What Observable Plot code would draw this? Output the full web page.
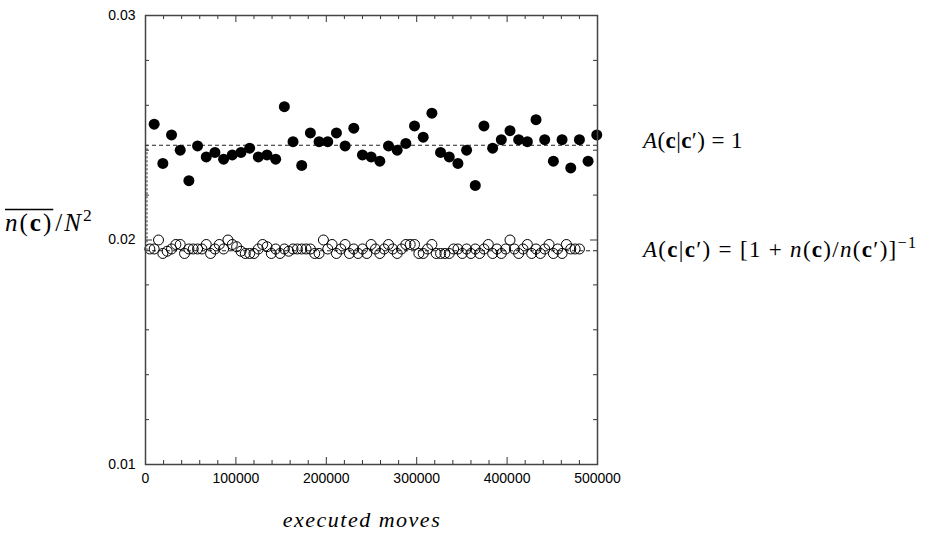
<!DOCTYPE html>
<html><head><meta charset="utf-8">
<script src="https://cdn.jsdelivr.net/npm/d3@7"></script>
<script src="https://cdn.jsdelivr.net/npm/@observablehq/plot@0.6"></script>
<style>body{margin:0;background:#fff}</style>
</head><body><div id="chart"></div>
<script>
// executed moves for the A=1 series (filled dots)
const movesFilled = [9600,19200,28800,38400,48000,57600,67200,76800,86400,96000,
  105600,115200,124800,134400,144000,153600,163200,172800,182400,192000,
  201600,211200,220800,230400,240000,249600,259200,268800,278400,288000,
  297600,307200,316800,326400,336000,345600,355200,364800,374400,384000,
  393600,403200,412800,422400,432000,441600,451200,460800,470400,480000,
  489600,499200];
const nFilled = [0.02516,0.02341,0.02468,0.02400,0.02264,0.02419,0.02370,0.02390,0.02360,0.02379,
  0.02390,0.02409,0.02370,0.02379,0.02360,0.02594,0.02438,0.02332,0.02477,0.02438,
  0.02438,0.02477,0.02419,0.02498,0.02379,0.02370,0.02351,0.02419,0.02400,0.02430,
  0.02508,0.02458,0.02565,0.02390,0.02370,0.02341,0.02400,0.02243,0.02508,0.02409,
  0.02447,0.02487,0.02447,0.02438,0.02536,0.02447,0.02351,0.02447,0.02321,0.02447,
  0.02351,0.02468];
// executed moves for the heat-bath series (open circles)
const movesOpen = [4800,9600,14400,19200,24000,28800,33600,38400,43200,48000,
  52800,57600,62400,67200,72000,76800,81600,86400,91200,96000,
  100800,105600,110400,115200,120000,124800,129600,134400,139200,144000,
  148800,153600,158400,163200,168000,172800,177600,182400,187200,192000,
  196800,201600,206400,211200,216000,220800,225600,230400,235200,240000,
  244800,249600,254400,259200,264000,268800,273600,278400,283200,288000,
  292800,297600,302400,307200,312000,316800,321600,326400,331200,336000,
  340800,345600,350400,355200,360000,364800,369600,374400,379200,384000,
  388800,393600,398400,403200,408000,412800,417600,422400,427200,432000,
  436800,441600,446400,451200,456000,460800,465600,470400,475200,480000];
const nOpen = [0.0196,0.0196,0.0200,0.0194,0.0195,0.0196,0.0198,0.0198,0.0194,0.0196,
  0.0196,0.0196,0.0196,0.0198,0.0194,0.0196,0.0198,0.0196,0.0200,0.0198,
  0.0197,0.0195,0.0194,0.0194,0.0194,0.0196,0.0198,0.0197,0.0194,0.0196,
  0.0194,0.0196,0.0195,0.0196,0.0196,0.0196,0.0196,0.0196,0.0194,0.0194,
  0.0200,0.0196,0.0198,0.0194,0.0196,0.0198,0.0194,0.0196,0.0194,0.0196,
  0.0194,0.0198,0.0196,0.0194,0.0196,0.0198,0.0196,0.0194,0.0196,0.0198,
  0.0198,0.0198,0.0194,0.0194,0.0196,0.0198,0.0194,0.0194,0.0194,0.0194,
  0.0196,0.0196,0.0194,0.0196,0.0194,0.0196,0.0194,0.0196,0.0198,0.0194,
  0.0196,0.0194,0.0196,0.0200,0.0196,0.0194,0.0196,0.0198,0.0194,0.0196,
  0.0194,0.0196,0.0198,0.0194,0.0196,0.0194,0.0198,0.0196,0.0196,0.0196];
// reference (mean) levels, upper = A=1, lower = heat-bath
const refLevels = [0.02422, 0.01952];
const xMajorTicks = [0, 100000, 200000, 300000, 400000, 500000];
const xMinorTicks = [20000,40000,60000,80000,120000,140000,160000,180000,220000,240000,260000,280000,
  320000,340000,360000,380000,420000,440000,460000,480000];
const yMajorTicks = [0.01, 0.02, 0.03];
const yMinorTicks = [0.012,0.014,0.016,0.018,0.022,0.024,0.026,0.028];
const xLabel = "executed moves";

const filled = movesFilled.map((m, i) => ({m, n: nFilled[i]}));
const open = movesOpen.map((m, i) => ({m, n: nOpen[i]}));

const W = 928, H = 535, mL = 145, mR = 331, mT = 15, mB = 71;
const fw = W - mL - mR, fh = H - mT - mB;
const majLen = 7, minLen = 4;
const tickStyle = {stroke: "#333", strokeWidth: 1};

const chart = Plot.plot({
  width: W, height: H,
  marginLeft: mL, marginRight: mR, marginTop: mT, marginBottom: mB,
  x: {domain: [0, 500000]},
  y: {domain: [0.01, 0.03]},
  style: {fontFamily: "'Liberation Sans', Arial, Helvetica, sans-serif", fontSize: "14px", color: "#000", background: "#fff"},
  marks: [
    Plot.ruleY(refLevels, {stroke: "#222", strokeWidth: 1, strokeDasharray: "4,3"}),
    Plot.ruleX([0], {y1: refLevels[1], y2: refLevels[0], stroke: "#222", strokeWidth: 1, strokeDasharray: "2,2", dx: 1.5}),
    Plot.dot(open, {x: "m", y: "n", r: 5, stroke: "#000", strokeWidth: 1, fill: "none"}),
    Plot.dot(filled, {x: "m", y: "n", r: 5.5, fill: "#000", stroke: null}),
    // inward mirrored ticks
    Plot.ruleX(xMajorTicks, {...tickStyle, insetTop: fh - majLen}),
    Plot.ruleX(xMinorTicks, {...tickStyle, insetTop: fh - minLen}),
    Plot.ruleX(xMajorTicks, {...tickStyle, insetBottom: fh - majLen}),
    Plot.ruleX(xMinorTicks, {...tickStyle, insetBottom: fh - minLen}),
    Plot.ruleY(yMajorTicks, {...tickStyle, insetRight: fw - majLen}),
    Plot.ruleY(yMinorTicks, {...tickStyle, insetRight: fw - minLen}),
    Plot.ruleY(yMajorTicks, {...tickStyle, insetLeft: fw - majLen}),
    Plot.ruleY(yMinorTicks, {...tickStyle, insetLeft: fw - minLen}),
    Plot.frame({stroke: "#444", strokeWidth: 1.5}),
    Plot.axisX(xMajorTicks, {tickSize: 0, tickPadding: 9, tickFormat: d => String(d), label: null}),
    Plot.axisY(yMajorTicks, {tickSize: 0, tickPadding: 10, tickFormat: d => d.toFixed(2), label: null})
  ]
});
document.getElementById("chart").appendChild(chart);

// math annotations
const svg = d3.select(chart);
const xS = chart.scale("x"), yS = chart.scale("y");
const serif = "'Liberation Serif', 'DejaVu Serif', serif";

function mathText(x, y, parts, size, spacing = 0, anchor = "start") {
  const t = svg.append("text").attr("x", x).attr("y", y)
    .attr("text-anchor", anchor)
    .attr("font-family", serif).attr("font-size", size).attr("fill", "#000")
    .attr("letter-spacing", spacing);
  for (const p of parts) {
    const s = t.append("tspan").text(p.t);
    if (p.i) s.attr("font-style", "italic");
    if (p.b) s.attr("font-weight", "bold");
    if (p.sup) s.attr("dy", -size * 0.4).attr("font-size", size * 0.7);
  }
  return t;
}

const lx = xS.apply(500000) + 46;
mathText(lx, yS.apply(refLevels[0]) + 3, [
  {t: "A", i: 1}, {t: "("}, {t: "c", b: 1}, {t: "|"}, {t: "c", b: 1}, {t: "\u2032) = 1"}
], 23, 0.4);
mathText(lx, yS.apply(refLevels[1]) + 7, [
  {t: "A", i: 1}, {t: "("}, {t: "c", b: 1}, {t: "|"}, {t: "c", b: 1}, {t: "\u2032) = [1 + "},
  {t: "n", i: 1}, {t: "("}, {t: "c", b: 1}, {t: ")/"}, {t: "n", i: 1}, {t: "("}, {t: "c", b: 1}, {t: "\u2032)]"},
  {t: "\u22121", sup: 1}
], 23, 1.3);

// x-axis label
mathText((xS.apply(0) + xS.apply(500000)) / 2 - 9, H - 8, [{t: xLabel, i: 1}], 22, 1.5, "middle");

// y-axis label: overline(n(c)) / N^2
const ly = yS.apply(0.02) - 9;
const nc = mathText(5, ly, [{t: "n", i: 1}, {t: "("}, {t: "c", b: 1}, {t: ")"}], 25, 2);
const ncW = nc.node().getComputedTextLength();
svg.append("line").attr("x1", 5).attr("x2", 5 + ncW).attr("y1", ly - 21).attr("y2", ly - 21)
  .attr("stroke", "#000").attr("stroke-width", 1.3);
mathText(5 + ncW + 2, ly, [{t: "/"}, {t: "N", i: 1}, {t: "2", sup: 1}], 25, 2);
</script>
</body></html>
